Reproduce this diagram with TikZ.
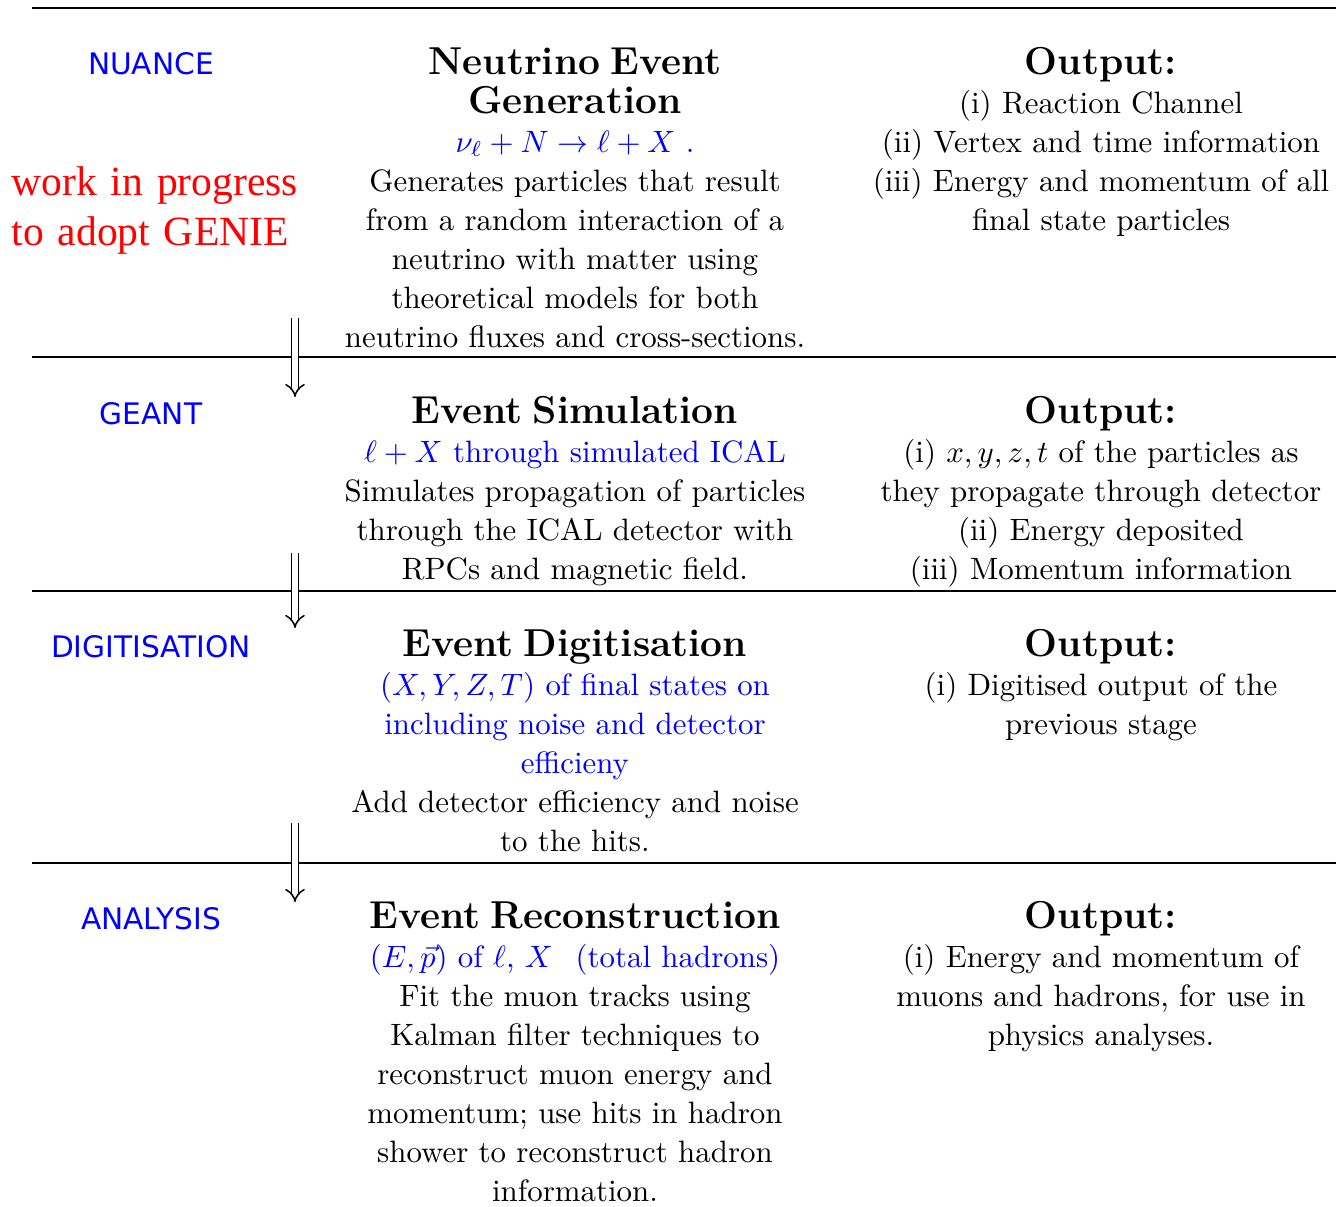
\documentclass[tikz,border=0pt]{standalone}
\usepackage{fontspec}
\newfontfamily\stagelabelfont{DejaVu Sans}
\newfontfamily\wipfont{Liberation Serif}
\usetikzlibrary{arrows.meta}
\newcommand\stagetitle[1]{{\fontsize{12.6}{12.65}\selectfont\bfseries #1}}
\newcommand\bluetxt[1]{\mbox{\textcolor{blue}{#1}}}
\begin{document}
\begin{tikzpicture}[x=0.3236pt,y=-0.3236pt,
  rule/.style={line width=0.6pt},
  flow/.style={double, double distance=1.7pt, line width=0.5pt, -{Implies}},
  tool/.style={font=\stagelabelfont\fontsize{9.6}{11}\selectfont, text=blue, anchor=base, inner sep=0},
  midcol/.style={anchor=base, inner sep=0, text width=200pt, align=center, font=\fontsize{10}{12.65}\selectfont},
  outcol/.style={anchor=base, inner sep=0, text width=180pt, align=center, font=\fontsize{10}{12.65}\selectfont},
  wip/.style={anchor=base west, inner sep=0, text width=120pt, align=left, text=red, font=\wipfont\fontsize{13.45}{16.2}\selectfont}]
\useasboundingbox (0,0) rectangle (1336,1207);

% horizontal rules
\coordinate (r0a) at (32,8);   \coordinate (r0b) at (1336,8);
\coordinate (r1a) at (32,357); \coordinate (r1b) at (1336,357);
\coordinate (r2a) at (32,591); \coordinate (r2b) at (1336,591);
\coordinate (r3a) at (32,863); \coordinate (r3b) at (1336,863);
\draw[rule] (r0a) -- (r0b);
\draw[rule] (r1a) -- (r1b);
\draw[rule] (r2a) -- (r2b);
\draw[rule] (r3a) -- (r3b);

% left labels
\node[tool] (nuance) at (151,74) {NUANCE};
\node[tool] (geant) at (151,424) {GEANT};
\node[tool] (digi) at (151,657) {DIGITISATION};
\node[tool] (ana) at (151,929) {ANALYSIS};
\node[wip] (wipnote) at (11,195) {work in progress\\to adopt GENIE};

% stage 1
\node[midcol] (gen) at (575,74) {\stagetitle{Neutrino Event}\\\stagetitle{Generation}\\
  \bluetxt{$\nu_\ell + N \rightarrow \ell + X$ .}\\
  Generates particles that result\\from a random interaction of a\\neutrino with matter using\\theoretical models for both\\neutrino fluxes and cross-sections.};
\node[outcol] (genout) at (1101,74) {\stagetitle{Output:}\\(i) Reaction Channel\\(ii) Vertex and time information\\(iii) Energy and momentum of all\\final state particles};

% stage 2
\node[midcol] (sim) at (575,423) {\stagetitle{Event Simulation}\\
  \bluetxt{$\ell + X$ through simulated ICAL}\\
  Simulates propagation of particles\\through the ICAL detector with\\RPCs and magnetic field.};
\node[outcol] (simout) at (1101,423) {\stagetitle{Output:}\\(i) $x, y, z, t$ of the particles as\\they propagate through detector\\(ii) Energy deposited\\(iii) Momentum information};

% stage 3
\node[midcol] (dig) at (575,656) {\stagetitle{Event Digitisation}\\
  \bluetxt{$(X, Y, Z, T)$ of final states on}\\\bluetxt{including noise and detector}\\\bluetxt{efficieny}\\
  Add detector efficiency and noise\\to the hits.};
\node[outcol] (digout) at (1101,656) {\stagetitle{Output:}\\(i) Digitised output of the\\previous stage};

% stage 4
\node[midcol] (reco) at (575,928) {\stagetitle{Event Reconstruction}\\
  \bluetxt{$(E, \vec{p})$ of $\ell$, $X$\hspace{4pt} (total hadrons)}\\
  Fit the muon tracks using\\Kalman filter techniques to\\reconstruct muon energy and\\momentum; use hits in hadron\\shower to reconstruct hadron\\information.};
\node[outcol] (recoout) at (1101,928) {\stagetitle{Output:}\\(i) Energy and momentum of\\muons and hadrons, for use in\\physics analyses.};

% flow arrows
\coordinate (f1a) at (295,318); \coordinate (f1b) at (295,397);
\coordinate (f2a) at (295,553); \coordinate (f2b) at (295,628);
\coordinate (f3a) at (295,823); \coordinate (f3b) at (295,902);
\draw[flow] (f1a) -- (f1b);
\draw[flow] (f2a) -- (f2b);
\draw[flow] (f3a) -- (f3b);
\end{tikzpicture}
\end{document}
